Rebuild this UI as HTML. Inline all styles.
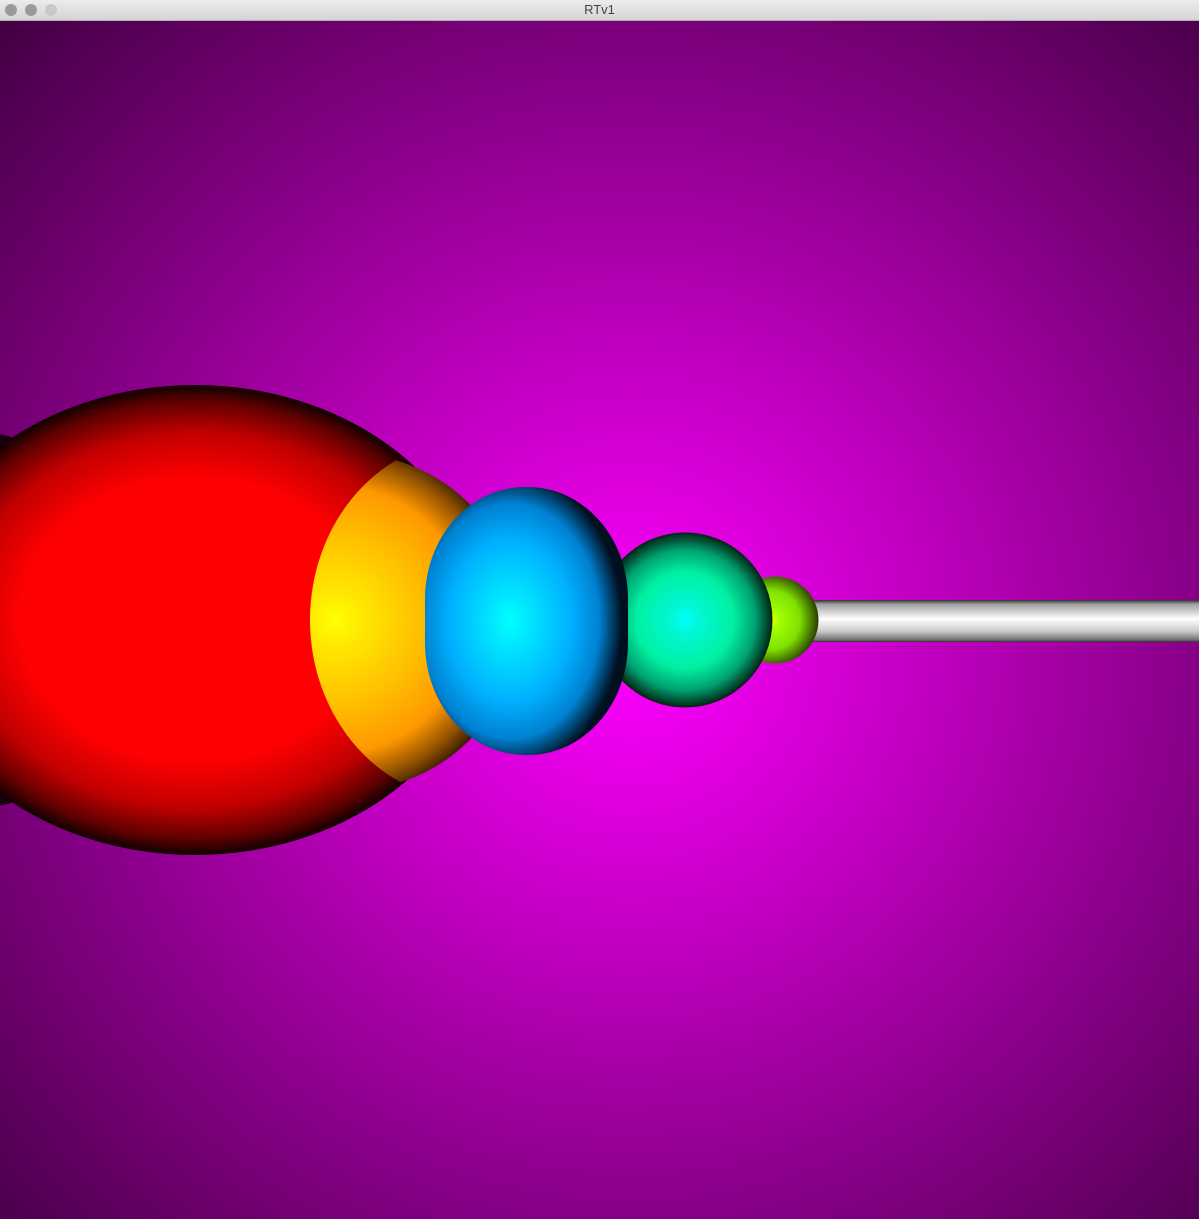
<!DOCTYPE html>
<html><head><meta charset="utf-8"><style>
html,body{margin:0;padding:0;width:1199px;height:1219px;overflow:hidden;background:#400040}
#bar{position:absolute;left:0;top:0;width:1199px;height:21px;background:linear-gradient(#ececec,#d4d4d4);border-bottom:1px solid #b0b0b0;box-sizing:border-box;font:13px "Liberation Sans",sans-serif;color:#444;text-align:center;line-height:20px}
.dot{position:absolute;top:4px;width:12px;height:12px;border-radius:50%;background:#9a9a9a;border:0px}
svg{position:absolute;left:0;top:21px}
</style></head><body>
<div id="bar">
<div class="dot" style="left:5px"></div>
<div class="dot" style="left:25px"></div>
<div class="dot" style="left:45px;background:#c8c8c8"></div>
<span>RTv1</span>
</div>
<svg width="1199" height="1198" viewBox="0 21 1199 1198">
<defs>
<radialGradient id="bg" gradientUnits="userSpaceOnUse" cx="630" cy="650" r="1080">
<stop offset="0" stop-color="#ff00ff"/><stop offset="1" stop-color="#1a001a"/></radialGradient>
<radialGradient id="red" cx="0.5" cy="0.5" r="0.5">
<stop offset="0" stop-color="#ff0000"/><stop offset="0.6" stop-color="#ff0000"/><stop offset="0.8" stop-color="#c00000"/><stop offset="0.93" stop-color="#600000"/><stop offset="1" stop-color="#100000"/></radialGradient>
<radialGradient id="org" gradientUnits="userSpaceOnUse" cx="335" cy="620" r="185">
<stop offset="0" stop-color="#ffff00"/><stop offset="0.15" stop-color="#ffe800"/><stop offset="0.45" stop-color="#ffc000"/><stop offset="0.72" stop-color="#ff9800"/><stop offset="0.88" stop-color="#905000"/><stop offset="1" stop-color="#201000"/></radialGradient>
<radialGradient id="blu" cx="0.42" cy="0.5" r="0.55">
<stop offset="0" stop-color="#00ffff"/><stop offset="0.15" stop-color="#00eaff"/><stop offset="0.55" stop-color="#00b0ff"/><stop offset="0.8" stop-color="#0080d0"/><stop offset="1" stop-color="#001020"/></radialGradient>
<radialGradient id="grn" gradientUnits="userSpaceOnUse" cx="685" cy="620" r="88">
<stop offset="0" stop-color="#00ffff"/><stop offset="0.15" stop-color="#00f8d8"/><stop offset="0.55" stop-color="#00f0a0"/><stop offset="0.8" stop-color="#00a070"/><stop offset="1" stop-color="#002010"/></radialGradient>
<radialGradient id="lim" gradientUnits="userSpaceOnUse" cx="770" cy="620" r="50">
<stop offset="0" stop-color="#ffff00"/><stop offset="0.2" stop-color="#a0ff00"/><stop offset="0.6" stop-color="#80e000"/><stop offset="1" stop-color="#203000"/></radialGradient>
<linearGradient id="cyl" x1="0" y1="600" x2="0" y2="642" gradientUnits="userSpaceOnUse">
<stop offset="0" stop-color="#303030"/><stop offset="0.1" stop-color="#a0a0a0"/><stop offset="0.45" stop-color="#ffffff"/><stop offset="0.75" stop-color="#c8c8c8"/><stop offset="0.95" stop-color="#707070"/><stop offset="1" stop-color="#303030"/></linearGradient>
<clipPath id="oclip"><ellipse cx="470" cy="620" rx="160" ry="180"/></clipPath>
</defs>
<rect x="0" y="21" width="1199" height="1198" fill="url(#bg)"/>
<circle cx="-40" cy="620" r="190" fill="#1a0010"/>
<rect x="790" y="600" width="409" height="42" fill="url(#cyl)"/>
<circle cx="775" cy="620" r="43.5" fill="url(#lim)"/>
<circle cx="685" cy="620" r="87.5" fill="url(#grn)"/>
<ellipse cx="195" cy="620" rx="290" ry="235" fill="url(#red)"/>
<circle cx="350" cy="622" r="168" fill="url(#org)" clip-path="url(#oclip)"/>
<rect x="425" y="487" width="203" height="268" rx="100" ry="112" fill="url(#blu)"/>
</svg>
</body></html>
